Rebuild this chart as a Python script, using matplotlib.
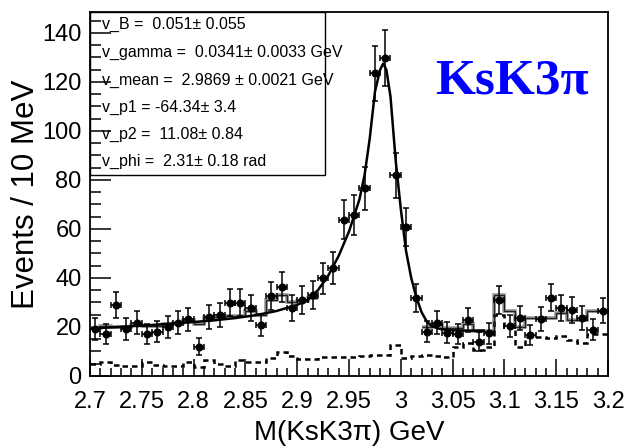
import numpy as np
import matplotlib
matplotlib.use("Agg")
import matplotlib.pyplot as plt
from matplotlib.patches import Rectangle
from matplotlib.ticker import MultipleLocator, FuncFormatter

# --- data: M(KsK3pi) spectrum, 10 MeV bins from 2.70 to 3.20 GeV ---
bin_edges = np.round(np.arange(2.70, 3.2001, 0.01), 3)
bin_centers = 0.5 * (bin_edges[:-1] + bin_edges[1:])

counts = [19.1, 17.0, 28.9, 19.1, 21.8, 17.0, 18.0, 20.1, 21.8, 23.1,
          12.0, 24.0, 24.9, 29.9, 29.9, 27.6, 20.8, 32.8, 36.2, 27.6,
          31.0, 33.1, 39.9, 44.0, 63.7, 65.7, 76.6, 123.5, 129.7, 81.8,
          60.7, 31.8, 18.0, 21.8, 17.7, 17.1, 22.9, 14.0, 17.4, 31.0,
          20.4, 23.8, 16.7, 23.3, 32.0, 27.6, 26.9, 23.5, 18.8, 26.7]

# binned total model (left sideband: bins 1-22, right sideband: bins 33-50)
model_left = [19.5, 20.5, 19.8, 20.0, 20.6, 20.2, 20.5, 21.2, 21.6, 22.8,
              21.0, 24.2, 24.2, 24.5, 24.5, 26.5, 24.8, 31.0, 33.0, 30.0,
              30.5, 32.0]
model_right = [20.0, 21.0, 19.5, 19.6, 21.0, 18.4, 18.4, 33.0, 26.5, 19.8,
               23.5, 23.5, 23.5, 25.5, 23.0, 23.0, 26.5, 26.5]

# non-resonant background (dashed)
background = [5.0, 5.5, 4.5, 4.0, 4.0, 5.5, 4.5, 4.0, 4.0, 5.5,
              3.5, 6.5, 5.0, 4.0, 6.5, 5.8, 5.5, 7.5, 9.9, 8.2,
              6.8, 7.0, 7.6, 7.6, 7.8, 7.6, 8.0, 8.6, 8.6, 12.7,
              7.5, 8.3, 8.6, 8.3, 7.9, 12.0, 13.3, 10.6, 12.0, 25.0,
              20.0, 12.0, 15.8, 15.8, 15.5, 16.3, 14.7, 13.3, 17.0, 17.0]

# fitted line shape
fit_mass = [2.700, 2.720, 2.740, 2.760, 2.780, 2.800, 2.820, 2.840, 2.860,
            2.880, 2.900, 2.910, 2.920, 2.930, 2.940, 2.950, 2.960, 2.965,
            2.970, 2.975, 2.980, 2.983, 2.986, 2.990, 2.995, 3.000, 3.005,
            3.010, 3.015, 3.020, 3.025, 3.030, 3.035, 3.040, 3.050, 3.065,
            3.080]
fit_value = [19.3, 19.8, 20.3, 20.8, 21.4, 22.0, 22.7, 23.6, 24.8,
             26.5, 29.0, 31.0, 35.0, 41.0, 49.0, 59.0, 72.0, 82.0,
             97.0, 116.0, 125.0, 127.5, 125.0, 114.0, 88.0, 68.0, 51.0,
             40.0, 32.0, 26.0, 22.2, 20.3, 19.5, 19.0, 18.6, 18.5,
             18.5]

fit_lines = ["v_B =  0.051\u00b1 0.055",
             "v_gamma =  0.0341\u00b1 0.0033 GeV",
             "v_mean =  2.9869 \u00b1 0.0021 GeV",
             "v_p1 = -64.34\u00b1 3.4",
             "v_p2 =  11.08\u00b1 0.84",
             "v_phi =  2.31\u00b1 0.18 rad"]

plt.rcParams['font.family'] = ['Liberation Sans', 'DejaVu Sans']

fig = plt.figure(figsize=(6.28, 4.47), dpi=100)
ax = fig.add_axes([0.1433, 0.159, 0.825, 0.814])

counts_arr = np.array(counts)
ax.errorbar(bin_centers, counts_arr, xerr=0.005, yerr=np.sqrt(counts_arr),
            fmt='o', color='black', ms=4.8, elinewidth=1.1, capsize=2,
            capthick=1.1, zorder=5)

# binned model drawn as a double-edged step line
for vals, lo, hi in [(model_left, 0, 22), (model_right, 32, 50)]:
    ax.stairs(vals, bin_edges[lo:hi + 1], baseline=None,
              color='#999999', lw=2.6, zorder=3)
    ax.stairs(vals, bin_edges[lo:hi + 1], baseline=None,
              color='#222222', lw=1.0, zorder=3.1)

ax.stairs(background, bin_edges, baseline=None, color='black', lw=1.8,
          linestyle=(0, (2.2, 1.6)), zorder=3)

ax.plot(fit_mass, fit_value, color='black', lw=1.8, zorder=4)

ax.set_xlim(2.70, 3.20)
ax.set_ylim(0, 148.5)

ax.xaxis.set_major_locator(MultipleLocator(0.05))
ax.xaxis.set_minor_locator(MultipleLocator(0.01))
ax.yaxis.set_major_locator(MultipleLocator(20))
ax.yaxis.set_minor_locator(MultipleLocator(5))
ax.xaxis.set_major_formatter(FuncFormatter(
    lambda v, p: f"{v:.2f}".rstrip('0').rstrip('.')))
ax.tick_params(which='both', direction='in', top=False, right=False,
               labelsize=17, width=1.1)
ax.tick_params(axis='y', which='major', length=15, pad=6)
ax.tick_params(axis='y', which='minor', length=8)
ax.tick_params(axis='x', which='major', length=12, pad=11)
ax.tick_params(axis='x', which='minor', length=6)
for s in ax.spines.values():
    s.set_linewidth(1.3)

ax.set_xlabel("M(KsK3\u03c0) GeV", fontsize=20, labelpad=5)
ax.set_ylabel("Events / 10 MeV", fontsize=22.5, labelpad=1)

# fit-parameter box
ax.add_patch(Rectangle((0, 0.552), 0.4537, 0.448, transform=ax.transAxes,
                       facecolor='white', edgecolor='black', lw=1.0,
                       zorder=1))
ys = [0.967, 0.888, 0.813, 0.739, 0.665, 0.590]
for txt, y in zip(fit_lines, ys):
    ax.text(0.023, y, txt, transform=ax.transAxes, fontsize=11.5,
            va='center', ha='left', zorder=6)

ax.text(0.666, 0.775, "KsK3\u03c0", transform=ax.transAxes, color='#0000ff',
        fontsize=37, fontweight='bold', family=['Liberation Serif', 'DejaVu Serif'],
        va='baseline', ha='left', zorder=6)

fig.savefig("out.png", dpi=100)
